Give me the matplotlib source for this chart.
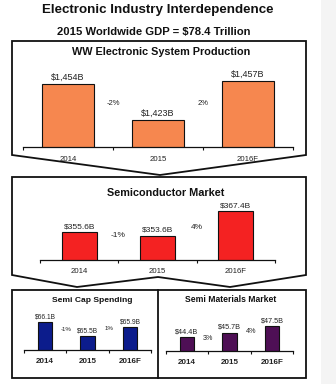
import matplotlib
matplotlib.use("Agg")
import matplotlib.pyplot as plt
from matplotlib.patches import Polygon, Rectangle

plt.rcParams['font.family'] = ['Liberation Sans', 'DejaVu Sans']

# ---------------- data ----------------
main_title = "Electronic Industry Interdependence"
sub_title = "2015 Worldwide GDP = $78.4 Trillion"

years = ["2014", "2015", "2016F"]

ws_title = "WW Electronic System Production"
ws_values = [1454, 1423, 1457]
ws_labels = ["$1,454B", "$1,423B", "$1,457B"]
ws_growth = ["-2%", "2%"]

semi_title = "Semiconductor Market"
semi_values = [355.6, 353.6, 367.4]
semi_labels = ["$355.6B", "$353.6B", "$367.4B"]
semi_growth = ["-1%", "4%"]

cap_title = "Semi Cap Spending"
cap_values = [66.1, 65.5, 65.9]
cap_labels = ["$66.1B", "$65.5B", "$65.9B"]
cap_growth = ["-1%", "1%"]

mat_title = "Semi Materials Market"
mat_values = [44.4, 45.7, 47.5]
mat_labels = ["$44.4B", "$45.7B", "$47.5B"]
mat_growth = ["3%", "4%"]

# ---------------- layout ----------------
W, H = 336, 384
fig = plt.figure(figsize=(W / 100, H / 100), dpi=100)
fig.patch.set_facecolor('white')


def px_axes(x0, y0, x1, y1, **kw):
    return fig.add_axes([x0 / W, 1 - y1 / H, (x1 - x0) / W, (y1 - y0) / H], **kw)


# overlay for boxes and titles
ov = px_axes(0, 0, W, H)
ov.set_xlim(0, W)
ov.set_ylim(H, 0)
ov.axis('off')

ov.add_patch(Rectangle((321, 0), 15, H, facecolor='#f4f4f4', edgecolor='none'))

lw_box = 1.3
ov.add_patch(Polygon([(12, 41), (306, 41), (306, 155), (160, 175), (12, 155)],
                     closed=True, fill=False, edgecolor='#111111', lw=lw_box))
ov.add_patch(Polygon([(12, 177), (306, 177), (306, 275), (230, 287), (158, 277), (77, 287), (12, 275)],
                     closed=True, fill=False, edgecolor='#111111', lw=lw_box))
ov.add_patch(Rectangle((12, 290), 294, 88, fill=False, edgecolor='#111111', lw=lw_box))
ov.plot([158, 158], [290, 378], color='#111111', lw=lw_box)

ov.text(158, 9.5, main_title, ha='center', va='center', fontsize=9.6, fontweight='bold', color='#111111')
ov.text(154, 32, sub_title, ha='center', va='center', fontsize=8.1, fontweight='bold', color='#111111')
ov.text(161, 52, ws_title, ha='center', va='center', fontsize=7.8, fontweight='bold', color='#111111')
ov.text(166, 193, semi_title, ha='center', va='center', fontsize=7.8, fontweight='bold', color='#111111')
ov.text(92, 300, cap_title, ha='center', va='center', fontsize=6.1, fontweight='bold', color='#111111')
ov.text(231, 300, mat_title, ha='center', va='center', fontsize=6.2, fontweight='bold', color='#111111')


def bar_panel(rect, values, labels, growth, growth_y, ylim, color, width,
              fs_val, fs_cat, fs_pct, cat_pad, cat_bold, val_off):
    ax = px_axes(*rect)
    ax.set_facecolor('none')
    x = list(range(len(values)))
    ax.bar(x, values, width, color=color, edgecolor='#111111', lw=0.8, zorder=2)
    ax.set_xlim(-0.5, len(values) - 0.5)
    ax.set_ylim(*ylim)
    for s in ['top', 'left', 'right']:
        ax.spines[s].set_visible(False)
    ax.spines['bottom'].set_linewidth(0.9)
    ax.spines['bottom'].set_color('#111111')
    ax.set_yticks([])
    ax.set_xticks(x)
    ax.set_xticklabels(years, fontsize=fs_cat, color='#222222',
                       fontweight='bold' if cat_bold else 'normal')
    ax.tick_params(axis='x', which='major', length=0, pad=cat_pad)
    ax.set_xticks([i - 0.5 for i in range(len(values) + 1)], minor=True)
    ax.tick_params(axis='x', which='minor', length=2.5, width=0.8, direction='out', color='#111111')
    for i, (v, lab) in enumerate(zip(values, labels)):
        ax.annotate(lab, (i, v), xytext=(0, val_off), textcoords='offset points',
                    ha='center', va='bottom', fontsize=fs_val, color='#222222',
                    annotation_clip=False)
    for i, (g, gy) in enumerate(zip(growth, growth_y)):
        ax.text(i + 0.5, gy, g, ha='center', va='center', fontsize=fs_pct,
                color='#222222', clip_on=False)
    return ax


bar_panel((23, 65.5, 293, 146.5), ws_values, ws_labels, ws_growth, [1437.5, 1437.5],
          (1400, 1470), '#F6874F', 0.58, 6.5, 5.6, 5.5, 6.5, False, 1.5)
bar_panel((40, 206.6, 275, 260), semi_values, semi_labels, semi_growth, [353.5, 358.5],
          (340, 370), '#F42222', 0.45, 6.0, 5.6, 6.0, 6.0, False, 1.5)
bar_panel((23.75, 317.4, 151.25, 350), cap_values, cap_labels, cap_growth, [65.76, 65.84],
          (64.9, 66.3), '#0C1C8C', 0.33, 4.8, 5.8, 4.4, 6.0, True, 1.2)
bar_panel((165.75, 322.6, 293.25, 351), mat_values, mat_labels, mat_growth, [44.16, 46.13],
          (40.5, 48.5), '#4E0F55', 0.33, 5.2, 5.8, 5.2, 6.0, True, 1.5)

fig.savefig('out.png', dpi=100, facecolor='white')
